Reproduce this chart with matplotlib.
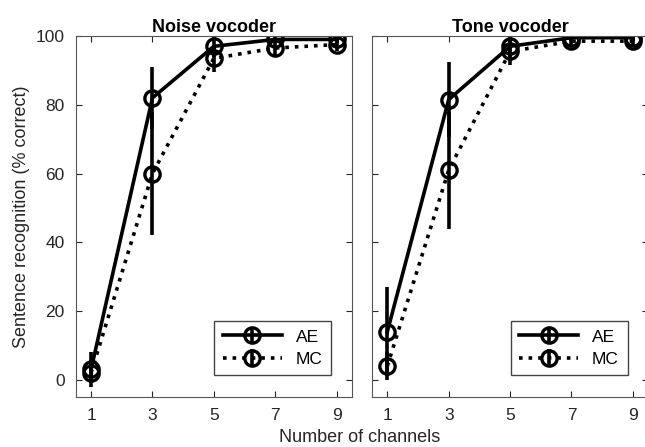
import matplotlib

matplotlib.use("Agg")
import matplotlib.pyplot as plt

plt.rcParams["font.family"] = ["Liberation Sans", "DejaVu Sans"]

channels = [1, 3, 5, 7, 9]

noise_ae = [3, 82, 97, 99, 99]
noise_ae_err = [5, 9, 3, 1, 1]
noise_mc = [2, 60, 93.5, 96.5, 97.5]
noise_mc_err = [3, 18, 4, 2, 2]

tone_ae = [14, 81.5, 97, 99.5, 99.5]
tone_ae_err = [13, 11, 3, 1, 1]
tone_mc = [4, 61, 95.5, 98.5, 98.5]
tone_mc_err = [4, 17, 4, 1.5, 1.5]

titles = ["Noise vocoder", "Tone vocoder"]
xticks = [1, 3, 5, 7, 9]
yticks = [0, 20, 40, 60, 80, 100]

GRAY = "#262626"

fig = plt.figure(figsize=(6.45, 4.47), dpi=100)
ax1 = fig.add_axes([0.1174, 0.1119, 0.4283, 0.8076])
ax2 = fig.add_axes([0.5767, 0.1119, 0.4283, 0.8076])

panels = [
    (ax1, noise_ae, noise_ae_err, noise_mc, noise_mc_err),
    (ax2, tone_ae, tone_ae_err, tone_mc, tone_mc_err),
]

for i, (ax, ae, ae_err, mc, mc_err) in enumerate(panels):
    style = dict(color="black", lw=2.6, marker="o", ms=11, mfc="none", mew=2.4,
                 elinewidth=2.6, capsize=0)
    ax.errorbar(channels, ae, yerr=ae_err, ls="-", label="AE", **style)
    ax.errorbar(channels, mc, yerr=mc_err, ls=":", label="MC", **style)
    ax.set_xlim(0.5, 9.5)
    ax.set_ylim(-5, 100)
    ax.set_xticks(xticks)
    ax.set_yticks(yticks)
    ax.tick_params(direction="in", top=True, right=True, colors=GRAY,
                   labelsize=12.5, length=4, pad=8)
    for s in ax.spines.values():
        s.set_color("#555555")
    ax.set_title(titles[i], fontsize=13, fontweight="bold", color="black", pad=3)
    if i == 1:
        ax.set_yticklabels([])
    leg = ax.legend(loc="lower right", bbox_to_anchor=(0.957, 0.036), fontsize=12.5,
                    handlelength=3.4, fancybox=False, framealpha=1,
                    edgecolor="#444444", borderpad=0.5, labelspacing=0.4)
    leg.get_frame().set_linewidth(1.0)

ax1.set_ylabel("Sentence recognition (% correct)", fontsize=13, color=GRAY, labelpad=4)
fig.text(0.558, 0.002, "Number of channels", ha="center", va="bottom",
         fontsize=13, color=GRAY)

fig.savefig("out.png")
